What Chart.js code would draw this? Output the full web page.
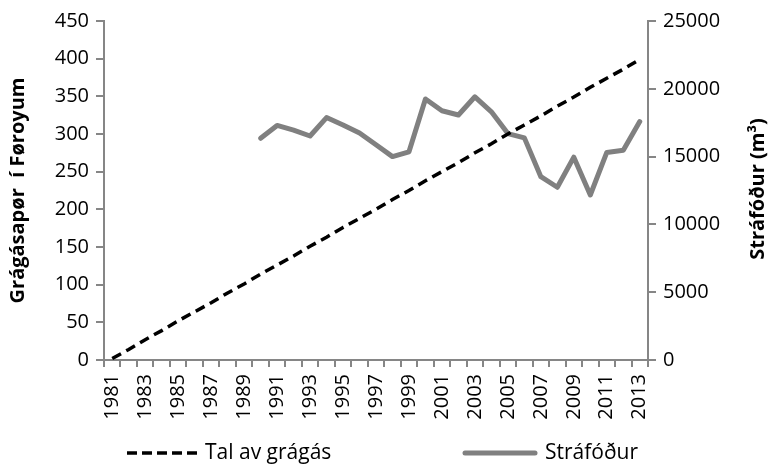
<!DOCTYPE html>
<html>
<head>
<meta charset="utf-8">
<script src="https://cdn.jsdelivr.net/npm/chart.js"></script>
<style>
  html, body { margin: 0; padding: 0; background: #fff; }
  #wrap { width: 769px; height: 466px; position: relative; }
</style>
</head>
<body>
<div id="wrap"><canvas id="chart"></canvas></div>
<script>
const years = []
for (let y = 1981; y <= 2013; y++) years.push(String(y))

// Tal av grágás (vinstru ás)
const talGragas = [2, 14, 27, 39, 52, 64, 76, 89, 101, 114, 126, 138, 151, 163, 176, 188, 200,
  213, 225, 238, 250, 262, 275, 287, 300, 312, 324, 337, 349, 362, 374, 386, 399]

// Stráfóður (høgru ás), 1981-1989 manglar
const strafodur = [null, null, null, null, null, null, null, null, null,
  16350, 17300, 16950, 16520, 17880, 17330, 16740, 15870, 15000, 15350, 19250,
  18380, 18070, 19410, 18300, 16700, 16380, 13520, 12740, 14960, 12170, 15310, 15470, 17580]

const axisGrey = '#868686'
const fontName = "'Open Sans', sans-serif"

// legend + right title drawn by hand
const extras = {
  id: 'extras',
  afterDraw(chart) {
    const c = chart.ctx
    c.save()
    // høgru ás heiti
    c.translate(758, 189)
    c.rotate(-Math.PI / 2)
    c.font = 'bold 20px ' + fontName
    c.fillStyle = '#000'
    c.textAlign = 'center'
    c.textBaseline = 'middle'
    c.fillText('Stráfóður (m³)', 0, 0)
    c.restore()

    c.save()
    const ly = 453
    c.lineWidth = 3.5
    c.strokeStyle = '#000'
    c.setLineDash([10, 5])
    c.beginPath(); c.moveTo(127, ly); c.lineTo(197, ly); c.stroke()
    c.setLineDash([])
    c.lineWidth = 5
    c.lineCap = 'round'
    c.strokeStyle = '#808080'
    c.beginPath(); c.moveTo(465, ly); c.lineTo(535, ly); c.stroke()
    c.font = '21px ' + fontName
    c.fillStyle = '#000'
    c.textBaseline = 'middle'
    c.fillText('Tal av grágás', 205, ly)
    c.fillText('Stráfóður', 545, ly)
    c.restore()
  }
}

new Chart(document.getElementById('chart'), {
  type: 'line',
  data: {
    labels: years,
    datasets: [
      {
        label: 'Tal av grágás',
        data: talGragas,
        yAxisID: 'y',
        borderColor: '#000',
        borderWidth: 3.5,
        borderDash: [10, 6],
        pointRadius: 0,
        tension: 0
      },
      {
        label: 'Stráfóður',
        data: strafodur,
        yAxisID: 'y1',
        borderColor: '#808080',
        borderWidth: 5,
        pointRadius: 0,
        tension: 0,
        borderJoinStyle: 'round',
        borderCapStyle: 'round'
      }
    ]
  },
  options: {
    responsive: true,
    maintainAspectRatio: false,
    animation: false,
    layout: { padding: { top: 21, bottom: 0, left: 0, right: 0 } },
    plugins: { legend: { display: false }, tooltip: { enabled: false } },
    scales: {
      x: {
        offset: true,
        grid: { offset: true, drawOnChartArea: false, color: axisGrey, lineWidth: 2, tickLength: 7 },
        border: { color: axisGrey, width: 2 },
        ticks: {
          autoSkip: false,
          maxRotation: 90,
          minRotation: 90,
          padding: 7,
          color: '#000',
          font: { family: fontName, size: 20 },
          callback: (v, i) => i % 2 === 0 ? years[i] : ''
        },
        afterFit: s => { s.height = 106 }
      },
      y: {
        position: 'left',
        min: 0, max: 450,
        grid: { drawOnChartArea: false, color: axisGrey, lineWidth: 2, tickLength: 8 },
        border: { color: axisGrey, width: 2 },
        ticks: { stepSize: 50, padding: 7, color: '#000', font: { family: fontName, size: 20 } },
        title: {
          display: true,
          text: 'Grágásapør  í Føroyum',
          color: '#000',
          font: { family: fontName, size: 20, weight: 'bold' },
          padding: { top: 6, bottom: 0 }
        },
        afterFit: s => { s.width = 104 }
      },
      y1: {
        position: 'right',
        min: 0, max: 25000,
        grid: { drawOnChartArea: false, color: axisGrey, lineWidth: 2, tickLength: 8 },
        border: { color: axisGrey, width: 2 },
        ticks: {
          stepSize: 5000, padding: 7, color: '#000', font: { family: fontName, size: 20 },
          callback: v => String(v)
        },
        afterFit: s => { s.width = 121 }
      }
    }
  },
  plugins: [extras]
})
</script>
</body>
</html>
